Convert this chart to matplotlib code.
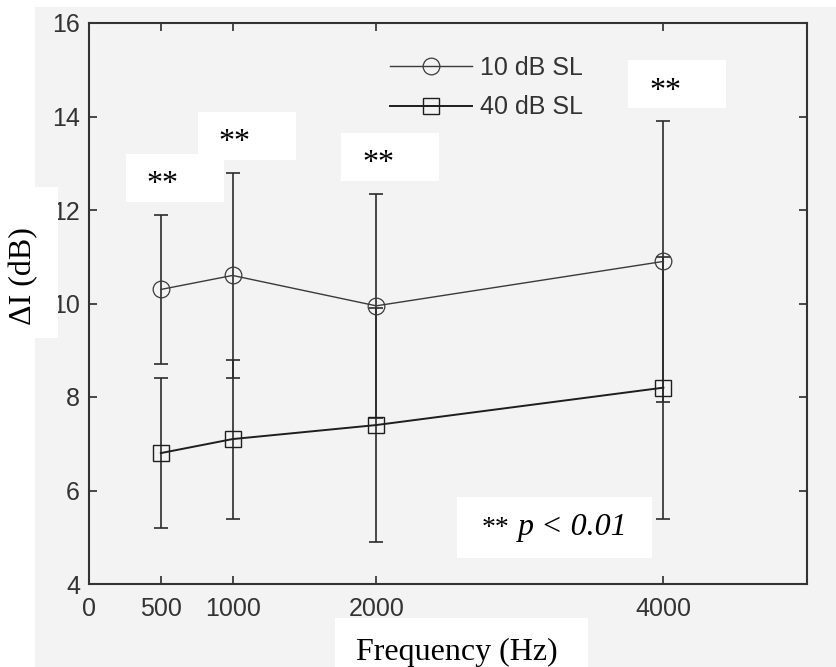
import matplotlib
matplotlib.use('Agg')
import matplotlib.pyplot as plt
from matplotlib.patches import Rectangle

# ---- data ----
freqs = [500, 1000, 2000, 4000]
sl10_mean = [10.3, 10.6, 9.95, 10.9]
sl10_err = [1.6, 2.2, 2.4, 3.0]
sl40_mean = [6.8, 7.1, 7.4, 8.2]
sl40_err = [1.6, 1.7, 2.5, 2.8]
series_labels = ['10 dB SL', '40 dB SL']
xtick_vals = [0, 500, 1000, 2000, 4000]
ytick_vals = [4, 6, 8, 10, 12, 14, 16]
sig_marks = ['**', '**', '**', '**']
x_label = 'Frequency (Hz)'
y_label = 'ΔI (dB)'
p_stars = '**'
p_text = 'p < 0.01'

W, H = 837, 667
GRAY = '#f3f3f3'
INK = '#2b2b2b'
SERIF = 'Liberation Serif'
SANS = 'Liberation Sans'

fig = plt.figure(figsize=(W / 100, H / 100), dpi=100, facecolor='white')


def fbox(x0, y0, x1, y1, color, z):
    """rectangle given in image pixel coords (top-left origin)"""
    r = Rectangle((x0 / W, 1 - y1 / H), (x1 - x0) / W, (y1 - y0) / H,
                  transform=fig.transFigure, fc=color, ec='none', zorder=z)
    fig.add_artist(r)


# gray backdrop
fbox(35, 7, W, H, GRAY, -3)

ax = fig.add_axes([89 / W, 1 - 584 / H, (807 - 89) / W, (584 - 23) / H])
ax.patch.set_visible(False)
ax.set_xlim(0, 5000)
ax.set_ylim(4, 16)

# error bars
ax.errorbar(freqs, sl10_mean, yerr=sl10_err, fmt='none', ecolor=INK,
            elinewidth=1.2, capsize=4.7, capthick=1.2, zorder=2)
ax.errorbar(freqs, sl40_mean, yerr=sl40_err, fmt='none', ecolor=INK,
            elinewidth=1.2, capsize=4.7, capthick=1.2, zorder=2)
# lines with markers
ax.plot(freqs, sl10_mean, color='#3a3a3a', lw=1.0, marker='o', ms=12,
        mfc='none', mec='#3a3a3a', mew=0.9, label=series_labels[0], zorder=3)
ax.plot(freqs, sl40_mean, color='#1e1e1e', lw=1.4, marker='s', ms=11.5,
        mfc='none', mec='#1e1e1e', mew=1.0, label=series_labels[1], zorder=3)

ax.set_xticks(xtick_vals)
ax.set_xticklabels([str(v) for v in xtick_vals])
ax.set_yticks(ytick_vals)
ax.set_yticklabels([str(v) for v in ytick_vals])
ax.tick_params(direction='in', length=6, width=1.2, top=True, right=True,
               labelsize=18, colors=INK, labelcolor='#333333')
ax.tick_params(axis='x', pad=9)
ax.tick_params(axis='y', pad=6.5)
for lab in ax.get_xticklabels() + ax.get_yticklabels():
    lab.set_family(SANS)
for s in ax.spines.values():
    s.set_color('#333333')
    s.set_linewidth(1.5)

leg = ax.legend(loc='upper left', bbox_to_anchor=((390 - 89) / 718, (584 - 56) / 561),
                frameon=False, borderpad=0, borderaxespad=0, handlelength=3.3,
                handletextpad=0.32, labelspacing=0.62,
                prop={'family': SANS, 'size': 18})
for t in leg.get_texts():
    t.set_color('#333333')

# significance marks with white boxes
fig.canvas.draw()
inv = fig.transFigure.inverted()
uppers = [m + e for m, e in zip(sl10_mean, sl10_err)]
for f, up, mark in zip(freqs, uppers, sig_marks):
    px, py = ax.transData.transform((f, up))
    x0, y0 = px - 35, py + 13
    (fx0, fy0) = inv.transform((x0, y0))
    (fx1, fy1) = inv.transform((x0 + 98, y0 + 48))
    fig.add_artist(Rectangle((fx0, fy0), fx1 - fx0, fy1 - fy0, transform=fig.transFigure,
                             fc='white', ec='none', zorder=-1))
    ax.annotate(mark, xy=(f, up), xytext=(2, 30), textcoords='offset pixels',
                ha='center', va='center', fontsize=23, family=SERIF, color='black')

# p-value note
fbox(457, 497, 652, 558, 'white', -1)
fig.text(482 / W, 1 - 535 / H, p_stars, ha='left', va='baseline', fontsize=20,
         family=SERIF, color='black')
fig.text(518 / W, 1 - 535 / H, p_text, ha='left', va='baseline', fontsize=23,
         family=SERIF, style='italic', color='black')

# axis labels with white boxes
fbox(0, 187, 58, 338, 'white', 1)
fig.text(24 / W, 1 - 276 / H, y_label, rotation=90, ha='center', va='center',
         fontsize=23, family=SERIF, color='black', zorder=2)
fbox(335, 618, 588, H, 'white', -1)
fig.text(457 / W, 1 - 652 / H, x_label, ha='center', va='center',
         fontsize=23, family=SERIF, color='black')

fig.savefig('out.png', dpi=100, facecolor='white')
